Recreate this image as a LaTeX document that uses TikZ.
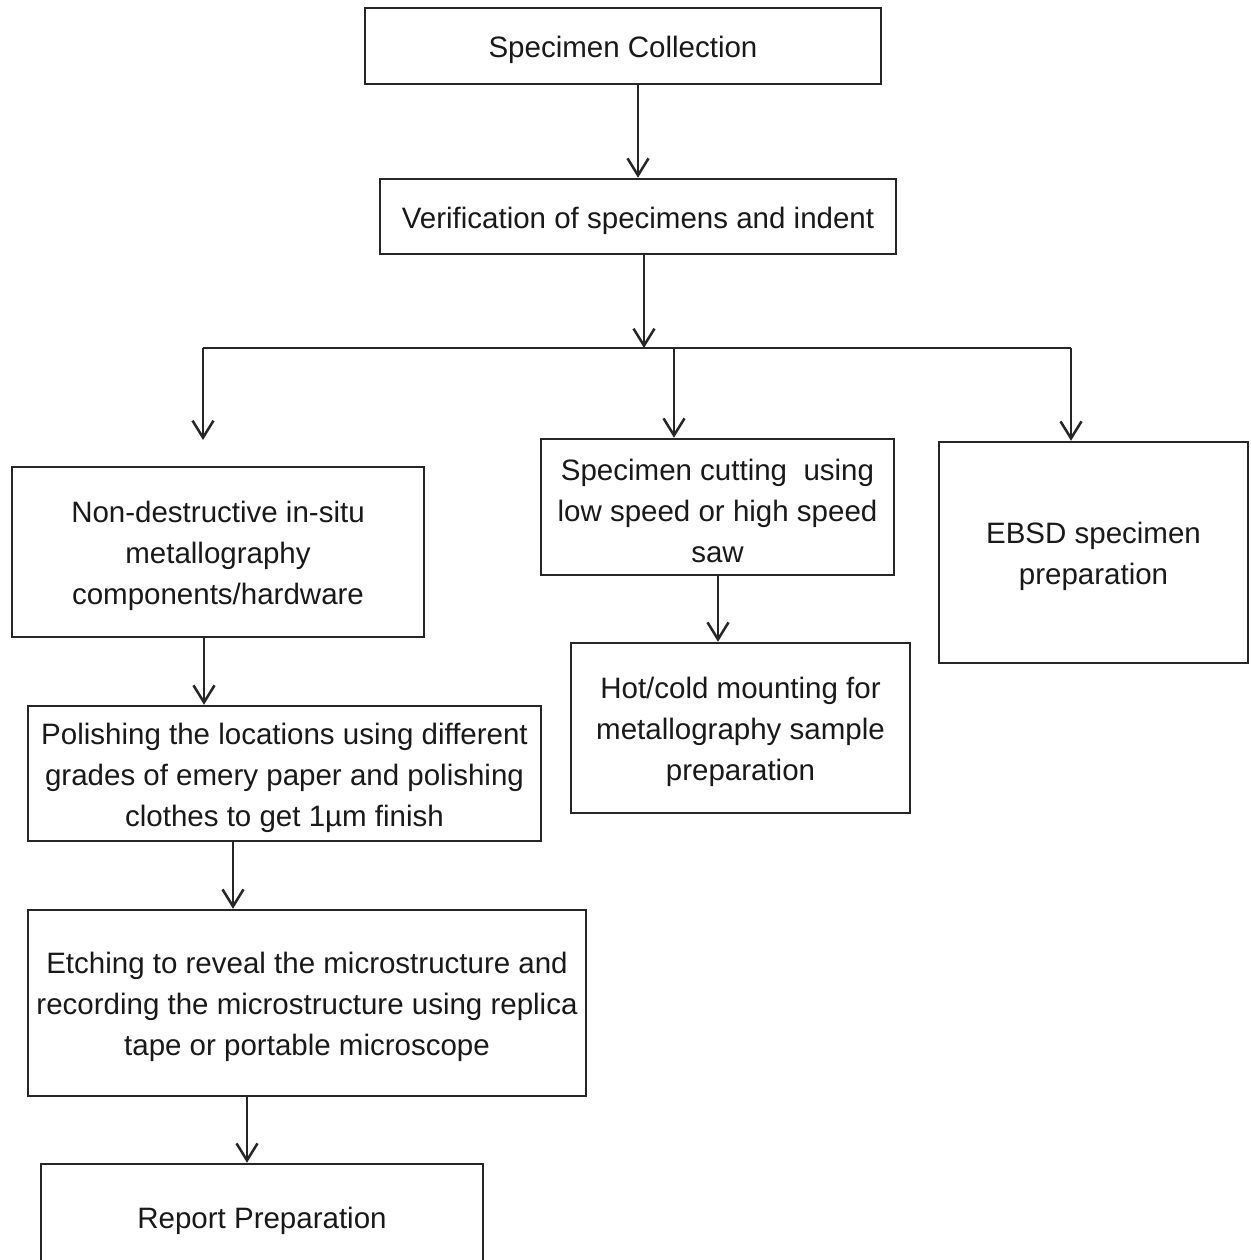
\documentclass[tikz,border=0pt]{standalone}
\usepackage{fontspec}
\setmainfont{Liberation Sans}
\usetikzlibrary{arrows.meta}
\begin{document}
\begin{tikzpicture}[x=1pt,y=-1pt,
  box/.style={draw=black!85, line width=2.5pt, fill=white, inner sep=0pt},
  boxtext/.style={align=center, inner sep=0pt, yshift=-4pt,
    font={\fontsize{29.5}{41}\selectfont}, text=black!90},
  link/.style={draw=black!85, line width=2.5pt},
  arr/.style={link, -{Straight Barb[length=17pt,width=21pt,line width=2.5pt]}}]
\useasboundingbox[fill=white] (0,0) rectangle (1250,1260);

% process boxes, each with its caption set at the centre
\node[box, minimum width=516pt, minimum height=76pt,
  label={[boxtext]center:Specimen Collection}] (sc) at (623,46) {};
\node[box, minimum width=516pt, minimum height=75pt,
  label={[boxtext]center:Verification of specimens and indent}] (ver) at (638,216.5) {};
\node[box, minimum width=412pt, minimum height=170pt,
  label={[boxtext]center:Non-destructive in-situ\\metallography\\components/hardware}] (nd) at (218,552) {};
\node[box, minimum width=353pt, minimum height=136pt,
  label={[boxtext]center:Specimen cutting\ \ using\\low speed or high speed\\saw}] (cut) at (717.5,507) {};
\node[box, minimum width=309pt, minimum height=221pt,
  label={[boxtext]center:EBSD specimen\\preparation}] (ebsd) at (1093.5,552.5) {};
\node[box, minimum width=339pt, minimum height=170pt,
  label={[boxtext]center:Hot/cold mounting for\\metallography sample\\preparation}] (hot) at (740.5,728) {};
\node[box, minimum width=513pt, minimum height=135pt,
  label={[boxtext]center:Polishing the locations using different\\grades of emery paper and polishing\\clothes to get 1µm finish}] (pol) at (284.5,773.5) {};
\node[box, minimum width=558pt, minimum height=186pt,
  label={[boxtext]center:Etching to reveal the microstructure and\\recording the microstructure using replica\\tape or portable microscope}] (etch) at (307,1003) {};
\node[box, minimum width=442pt, minimum height=106pt,
  label={[boxtext]center:Report Preparation}] (rep) at (262,1217) {};

% distribution bus below the verification step
\coordinate (busM) at (644,348);
\coordinate (busL) at (203,348);
\coordinate (busC) at (674,348);
\coordinate (busR) at (1071,348);
\coordinate (endL) at (203,440);

% connectors
\draw[arr] (638,0 |- sc.south) -- (638,0 |- ver.north);
\draw[arr] (644,0 |- ver.south) -- (busM);
\draw[link] (busL) -- (busR);
\draw[arr] (busL) -- (endL);
\draw[arr] (busC) -- (674,0 |- cut.north);
\draw[arr] (busR) -- (1071,0 |- ebsd.north);
\draw[arr] (718,0 |- cut.south) -- (718,0 |- hot.north);
\draw[arr] (204,0 |- nd.south) -- (204,0 |- pol.north);
\draw[arr] (233,0 |- pol.south) -- (233,0 |- etch.north);
\draw[arr] (247,0 |- etch.south) -- (247,0 |- rep.north);
\end{tikzpicture}
\end{document}
